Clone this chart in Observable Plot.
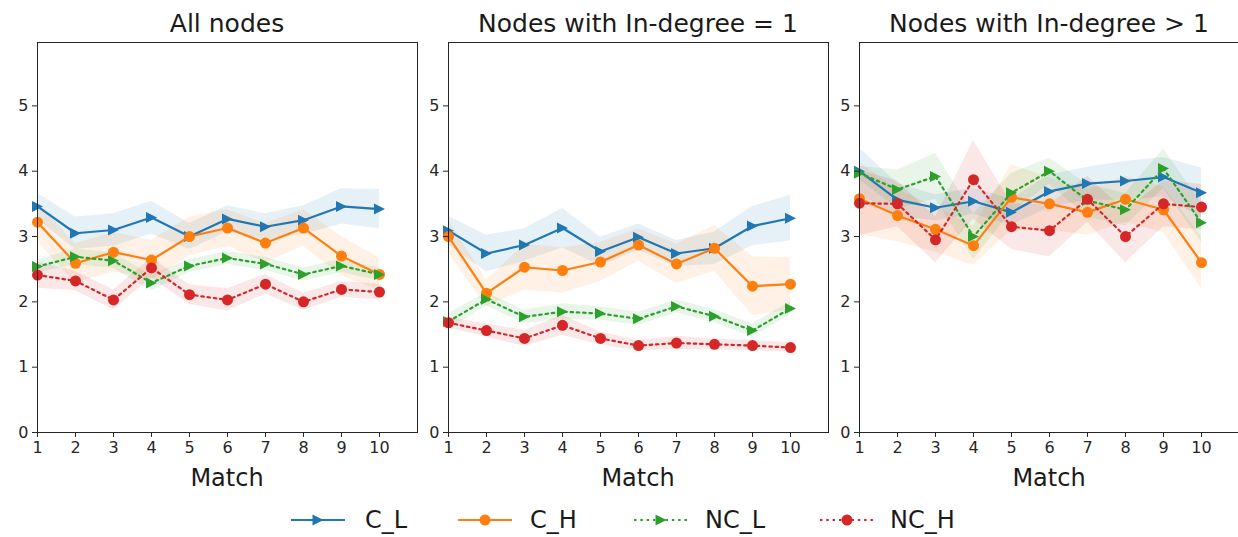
<!DOCTYPE html>
<html><head><meta charset="utf-8">
<script src="https://cdn.jsdelivr.net/npm/d3@7"></script>
<script src="https://cdn.jsdelivr.net/npm/@observablehq/plot@0.6"></script>
<style>
body{margin:0;background:#fff;overflow:hidden;font-family:"DejaVu Sans",sans-serif;}
#wrap{position:relative;width:1238px;height:537px;overflow:hidden;}
.panel{position:absolute;top:0;}
.title{position:absolute;top:9px;width:420px;font-size:25px;line-height:normal;text-align:center;color:#1a1a1a;white-space:nowrap;}
.xlab{position:absolute;top:464px;width:300px;font-size:24px;line-height:normal;text-align:center;color:#1a1a1a;}
.leg{position:absolute;top:506px;font-size:24px;line-height:normal;color:#1a1a1a;white-space:nowrap;}
</style></head>
<body><div id="wrap"></div>
<script>
const match = [1,2,3,4,5,6,7,8,9,10];
const seriesNames = ["C_L","C_H","NC_L","NC_H"];
const panelTitles = ["All nodes","Nodes with In-degree = 1","Nodes with In-degree > 1"];
const yTicks = [0,1,2,3,4,5];

// Panel 1: All nodes
const allC_L  = [3.46,3.05,3.10,3.29,3.00,3.27,3.15,3.25,3.46,3.42];
const allC_H  = [3.22,2.59,2.76,2.64,3.00,3.13,2.90,3.13,2.70,2.42];
const allNC_L = [2.54,2.69,2.63,2.29,2.55,2.67,2.58,2.42,2.55,2.42];
const allNC_H = [2.41,2.32,2.03,2.52,2.11,2.03,2.27,2.00,2.19,2.15];
const allC_Lerr  = [0.20,0.25,0.25,0.25,0.20,0.20,0.20,0.22,0.27,0.30];
const allC_Herr  = [0.30,0.30,0.30,0.30,0.30,0.28,0.30,0.28,0.30,0.25];
const allNC_Lerr = [0.10,0.12,0.12,0.12,0.10,0.10,0.10,0.10,0.10,0.10];
const allNC_Herr = [0.20,0.15,0.15,0.15,0.15,0.17,0.15,0.13,0.12,0.12];

// Panel 2: In-degree = 1
const oneC_L  = [3.09,2.74,2.87,3.13,2.77,2.99,2.74,2.82,3.16,3.28];
const oneC_H  = [3.00,2.13,2.53,2.48,2.61,2.87,2.58,2.82,2.24,2.27];
const oneNC_L = [1.70,2.04,1.77,1.85,1.82,1.74,1.93,1.78,1.56,1.90];
const oneNC_H = [1.68,1.56,1.44,1.64,1.44,1.33,1.37,1.35,1.33,1.30];
const oneC_Lerr  = [0.22,0.28,0.25,0.30,0.22,0.20,0.20,0.25,0.30,0.35];
const oneC_Herr  = [0.25,0.20,0.35,0.35,0.30,0.25,0.30,0.35,0.45,0.40];
const oneNC_Lerr = [0.12,0.10,0.10,0.12,0.10,0.10,0.10,0.10,0.10,0.10];
const oneNC_Herr = [0.08,0.10,0.12,0.15,0.10,0.08,0.10,0.08,0.08,0.07];

// Panel 3: In-degree > 1
const gtC_L  = [4.00,3.56,3.44,3.54,3.37,3.69,3.81,3.85,3.91,3.67];
const gtC_H  = [3.58,3.32,3.11,2.86,3.60,3.50,3.37,3.57,3.41,2.60];
const gtNC_L = [3.97,3.72,3.92,3.00,3.67,4.00,3.55,3.41,4.04,3.21];
const gtNC_H = [3.51,3.50,2.95,3.87,3.15,3.09,3.57,3.00,3.50,3.45];
const gtC_Lerr  = [0.35,0.25,0.20,0.20,0.20,0.25,0.25,0.30,0.30,0.38];
const gtC_Herr  = [0.55,0.40,0.35,0.30,0.50,0.40,0.35,0.35,0.35,0.40];
const gtNC_Lerr = [0.10,0.30,0.35,0.35,0.30,0.20,0.25,0.25,0.30,0.30];
const gtNC_Herr = [0.50,0.35,0.35,0.60,0.35,0.40,0.35,0.40,0.35,0.35];

const colors = {"C_L":"#1f77b4","C_H":"#ff7f0e","NC_L":"#2ca02c","NC_H":"#d62728"};
const dashed = {"C_L":null,"C_H":null,"NC_L":"2.5,3.8","NC_H":"2.5,3.8"};

const triRight = {draw(ctx, size){const r=Math.sqrt(size/Math.PI);ctx.moveTo(r,0);ctx.lineTo(-r,r);ctx.lineTo(-r,-r);ctx.closePath();}};
const symbols = {"C_L":triRight,"C_H":"circle","NC_L":triRight,"NC_H":"circle"};

const panels = [
  {vals:[allC_L,allC_H,allNC_L,allNC_H], errs:[allC_Lerr,allC_Herr,allNC_Lerr,allNC_Herr]},
  {vals:[oneC_L,oneC_H,oneNC_L,oneNC_H], errs:[oneC_Lerr,oneC_Herr,oneNC_Lerr,oneNC_Herr]},
  {vals:[gtC_L,gtC_H,gtNC_L,gtNC_H], errs:[gtC_Lerr,gtC_Herr,gtNC_Lerr,gtNC_Herr]}
];

const wrap = document.getElementById("wrap");
const frameLeft = [37,448,859];
const mL = 30, frameW = 380;

panels.forEach((p, i) => {
  const marks = [];
  seriesNames.forEach((s, k) => {
    const rows = match.map((m, j) => ({m, v:p.vals[k][j], lo:p.vals[k][j]-p.errs[k][j], hi:p.vals[k][j]+p.errs[k][j]}));
    marks.push(Plot.areaY(rows, {x:"m", y1:"lo", y2:"hi", fill:colors[s], fillOpacity:0.11}));
  });
  seriesNames.forEach((s, k) => {
    const rows = match.map((m, j) => ({m, v:p.vals[k][j]}));
    marks.push(Plot.line(rows, {x:"m", y:"v", stroke:colors[s], strokeWidth:2.2, strokeDasharray:dashed[s]}));
    marks.push(Plot.dot(rows, {x:"m", y:"v", r:5.5, symbol:symbols[s], fill:colors[s], stroke:"none"}));
  });
  marks.push(Plot.frame({stroke:"#262626", strokeWidth:1}));
  marks.push(Plot.axisX({ticks:match, tickSize:5, tickPadding:4, fontSize:16, tickFormat:d=>d}));
  marks.push(Plot.axisY({ticks:yTicks, tickSize:5, tickPadding:4, fontSize:16, tickFormat:d=>d}));
  const svg = Plot.plot({
    width: mL + frameW, height: 470,
    marginLeft: mL, marginRight: 0, marginTop: 42, marginBottom: 38,
    x: {domain:[1,11], label:null},
    y: {domain:[0,5.97], label:null},
    style: {fontFamily:"DejaVu Sans", color:"#262626", background:"transparent", overflow:"visible"},
    marks
  });
  svg.classList.add("panel");
  svg.style.left = (frameLeft[i] - mL) + "px";
  wrap.appendChild(svg);

  const t = document.createElement("div");
  t.className = "title"; t.textContent = panelTitles[i];
  t.style.left = (frameLeft[i] + frameW/2 - 210) + "px";
  wrap.appendChild(t);
  const xl = document.createElement("div");
  xl.className = "xlab"; xl.textContent = "Match";
  xl.style.left = (frameLeft[i] + frameW/2 - 150) + "px";
  wrap.appendChild(xl);
});

// Legend
const legX = [291, 458, 634, 820];
const legTextX = [365, 530, 705, 890];
const NS = "http://www.w3.org/2000/svg";
seriesNames.forEach((s, k) => {
  const svg = document.createElementNS(NS, "svg");
  svg.setAttribute("width", 56); svg.setAttribute("height", 20);
  svg.style.position = "absolute"; svg.style.left = legX[k] + "px"; svg.style.top = "510px";
  const ln = document.createElementNS(NS, "line");
  ln.setAttribute("x1", 0); ln.setAttribute("x2", 54); ln.setAttribute("y1", 10); ln.setAttribute("y2", 10);
  ln.setAttribute("stroke", colors[s]); ln.setAttribute("stroke-width", 2.2);
  if (dashed[s]) ln.setAttribute("stroke-dasharray", dashed[s]);
  svg.appendChild(ln);
  if (symbols[s] === "circle") {
    const c = document.createElementNS(NS, "circle");
    c.setAttribute("cx", 27); c.setAttribute("cy", 10); c.setAttribute("r", 5.5); c.setAttribute("fill", colors[s]);
    svg.appendChild(c);
  } else {
    const pth = document.createElementNS(NS, "path");
    pth.setAttribute("d", "M32.5,10L21.5,15.5L21.5,4.5Z"); pth.setAttribute("fill", colors[s]);
    svg.appendChild(pth);
  }
  wrap.appendChild(svg);
  const lab = document.createElement("div");
  lab.className = "leg"; lab.textContent = s;
  lab.style.left = legTextX[k] + "px";
  wrap.appendChild(lab);
});
</script></body></html>
